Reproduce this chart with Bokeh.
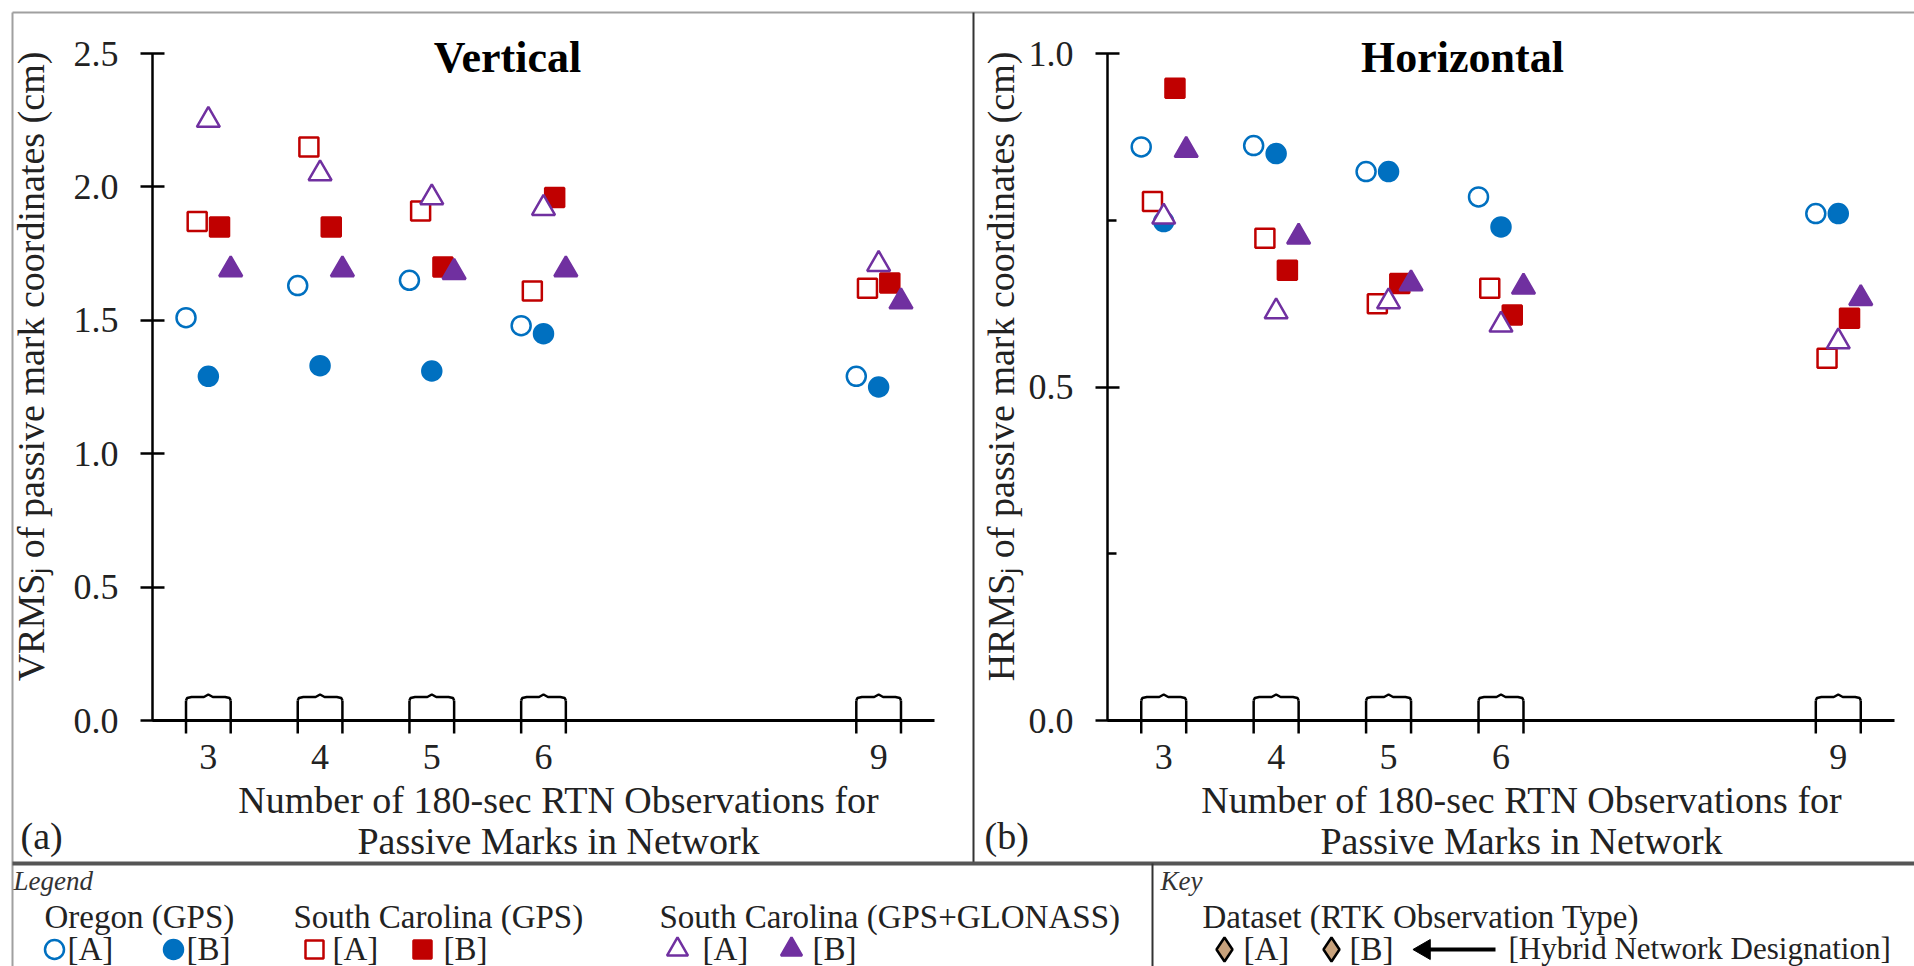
import numpy as np
from bokeh.plotting import figure
from bokeh.models import Range1d, LinearAxis, FixedTicker, PrintfTickFormatter, ColumnDataSource
from bokeh.transform import dodge
from bokeh.core.properties import value
from bokeh.embed import file_html
from bokeh.resources import INLINE

# ---------------- data ----------------
n_obs = [3, 4, 5, 6, 9]
v_ticks = [0.0, 0.5, 1.0, 1.5, 2.0, 2.5]
h_ticks = [0.0, 0.5, 1.0]
h_minor_ticks = [0.25, 0.75]

# Vertical RMS (cm)
oregon_a_v = [1.51, 1.63, 1.65, 1.48, 1.29]
oregon_b_v = [1.29, 1.33, 1.31, 1.45, 1.25]
sc_gps_a_v = [1.87, 2.15, 1.91, 1.61, 1.62]
sc_gps_b_v = [1.85, 1.85, 1.70, 1.96, 1.64]
sc_glo_a_v = [2.25, 2.05, 1.96, 1.92, 1.71]
sc_glo_b_v = [1.69, 1.69, 1.68, 1.69, 1.57]

# Horizontal RMS (cm)
oregon_a_h = [0.860, 0.862, 0.823, 0.785, 0.760]
oregon_b_h = [0.748, 0.850, 0.823, 0.740, 0.760]
sc_gps_a_h = [0.778, 0.723, 0.625, 0.648, 0.543]
sc_gps_b_h = [0.948, 0.675, 0.655, 0.608, 0.603]
sc_glo_a_h = [0.755, 0.613, 0.628, 0.593, 0.568]
sc_glo_b_h = [0.855, 0.725, 0.655, 0.650, 0.633]

panel_titles = ["Vertical", "Horizontal"]
panel_tags = ["(a)", "(b)"]
y_labels = ["VRMS\u2C7C of passive mark coordinates (cm)",
            "HRMS\u2C7C of passive mark coordinates (cm)"]
x_label_lines = ["Number of 180-sec RTN Observations for", "Passive Marks in Network"]
legend_groups = ["Oregon (GPS)", "South Carolina (GPS)", "South Carolina (GPS+GLONASS)"]
dataset_labels = ["[A]", "[B]"]
key_title = "Dataset (RTK Observation Type)"
key_note = "[Hybrid Network Designation]"

# ---------------- page geometry ----------------
W, H = 1914, 966
FONT = "Liberation Serif"
BLUE, RED, PURPLE = "#0070C0", "#C00000", "#7030A0"


def x_map(v0, p0, v1, p1):
    unit = (p1 - p0) / (v1 - v0)
    return v0 - p0 / unit, v1 + (W - p1) / unit, unit


def y_map(vtop, ptop, vbot, pbot):
    unit = (pbot - ptop) / (vtop - vbot)
    return vbot - (H - pbot) / unit, vtop + ptop / unit, unit


lx0, lx1, lxu = x_map(2.5, 152, 9.5, 934)
ly0, ly1, lyu = y_map(2.5, 53, 0.0, 720)
rx0, rx1, rxu = x_map(2.5, 1107, 9.5, 1894)
ry0, ry1, ryu = y_map(1.0, 53, 0.0, 720)

p = figure(width=W, height=H, x_range=Range1d(0, W), y_range=Range1d(H, 0),
           x_axis_type=None, y_axis_type=None, toolbar_location=None,
           output_backend="svg", min_border=0, outline_line_color=None,
           background_fill_color="white", border_fill_color="white")
p.extra_x_ranges = {"lx": Range1d(lx0, lx1), "rx": Range1d(rx0, rx1)}
p.extra_y_ranges = {"ly": Range1d(ly0, ly1), "ry": Range1d(ry0, ry1)}

# ---------------- frame lines ----------------
p.segment(x0=[12, 12], y0=[12, 12], x1=[W, 12], y1=[12, H], line_color="#a0a0a0", line_width=2)
p.segment(x0=[973], y0=[12], x1=[973], y1=[863], line_color="#333333", line_width=2)
p.segment(x0=[12], y0=[863], x1=[W], y1=[863], line_color="#555555", line_width=4)
p.segment(x0=[1152], y0=[863], x1=[1152], y1=[H], line_color="#333333", line_width=2)


def add_panel(xr, yr, yunit, yticks, ymax, minor, data):
    xa = LinearAxis(x_range_name=xr, y_range_name=yr, fixed_location=0,
                    bounds=(2.5, 9.5), ticker=FixedTicker(ticks=n_obs),
                    major_tick_in=0, major_tick_out=0,
                    major_tick_line_color=None, minor_tick_line_color=None,
                    axis_line_width=3, axis_line_color="black",
                    major_label_text_font=FONT, major_label_text_font_size="36px",
                    major_label_text_color="#222222", major_label_standoff=24)
    p.add_layout(xa, "below")
    ya = LinearAxis(x_range_name=xr, y_range_name=yr, fixed_location=2.5,
                    bounds=(0, ymax),
                    ticker=FixedTicker(ticks=yticks, minor_ticks=minor),
                    formatter=PrintfTickFormatter(format="%.1f"),
                    major_tick_in=12, major_tick_out=12, major_tick_line_width=2.5,
                    major_tick_line_color="black",
                    minor_tick_in=9, minor_tick_out=0, minor_tick_line_width=2.5,
                    minor_tick_line_color="black" if minor else None,
                    axis_line_width=2.5, axis_line_color="black",
                    major_label_text_font=FONT, major_label_text_font_size="36px",
                    major_label_text_color="#222222", major_label_standoff=22)
    p.add_layout(ya, "left")

    # group brackets at each observation count
    lo, hi, peak = -13 / yunit, 20 / yunit, 26 / yunit
    xs, ys = [], []
    for n in n_obs:
        xs += [[n - 0.2, n - 0.2], [n + 0.2, n + 0.2]]
        ys += [[lo, hi], [lo, hi]]
        xs.append([n - 0.2, n - 0.19, n - 0.15, n - 0.04, n, n + 0.04, n + 0.15, n + 0.19, n + 0.2])
        ys.append([hi, hi + 2.5 / yunit, hi + 3.5 / yunit, hi + 3.5 / yunit, peak,
                   hi + 3.5 / yunit, hi + 3.5 / yunit, hi + 2.5 / yunit, hi])
    p.multi_line(xs=xs, ys=ys, line_color="black", line_width=2.5,
                 x_range_name=xr, y_range_name=yr)

    src = ColumnDataSource(dict(n=n_obs, oa=data[0], ob=data[1], sa=data[2],
                                sb=data[3], ga=data[4], gb=data[5]))
    spec = [("oa", -0.2, "circle", BLUE, False, 19),
            ("ob", 0.0, "circle", BLUE, True, 19),
            ("sa", -0.1, "square", RED, False, 19),
            ("sb", 0.1, "square", RED, True, 19),
            ("ga", 0.0, "triangle", PURPLE, False, 23),
            ("gb", 0.2, "triangle", PURPLE, True, 23)]
    for field, off, mk, col, filled, sz in spec:
        p.scatter(x=dodge("n", off), y=field, source=src, marker=mk, size=sz,
                  line_color=col, fill_color=col if filled else "white",
                  line_width=2.5, x_range_name=xr, y_range_name=yr)


add_panel("lx", "ly", lyu, v_ticks, 2.5, [],
          [oregon_a_v, oregon_b_v, sc_gps_a_v, sc_gps_b_v, sc_glo_a_v, sc_glo_b_v])
add_panel("rx", "ry", ryu, h_ticks, 1.0, h_minor_ticks,
          [oregon_a_h, oregon_b_h, sc_gps_a_h, sc_gps_b_h, sc_glo_a_h, sc_glo_b_h])

# ---------------- panel texts ----------------
p.text(x=[507, 1462], y=[57, 57], text=panel_titles, text_font=value(FONT),
       text_font_style="bold", text_font_size="44px", text_align="center",
       text_baseline="middle", text_color="black")
p.text(x=[30, 1000], y=[366, 366], text=y_labels, angle=np.pi / 2,
       text_font=value(FONT), text_font_size="38px", text_align="center",
       text_baseline="middle", text_color="#222222")
p.text(x=[558, 558, 1521, 1521], y=[799, 840, 799, 840],
       text=x_label_lines + x_label_lines, text_font=value(FONT),
       text_font_size="38px", text_align="center", text_baseline="middle",
       text_color="#222222")
p.text(x=[20, 984], y=[835, 835], text=panel_tags, text_font=value(FONT),
       text_font_size="38px", text_align="left", text_baseline="middle",
       text_color="#222222")

# ---------------- legend / key ----------------
p.text(x=[13, 1160], y=[880, 880], text=["Legend", "Key"], text_font=value(FONT),
       text_font_style="italic", text_font_size="27px", text_align="left",
       text_baseline="middle", text_color="#333333")
p.text(x=[44, 293, 659, 1202], y=[916, 916, 916, 916],
       text=legend_groups + [key_title], text_font=value(FONT),
       text_font_size="33px", text_align="left", text_baseline="middle",
       text_color="#222222")
p.text(x=[67, 186, 332, 443, 702, 812, 1243, 1349],
       y=[948] * 8,
       text=dataset_labels * 4, text_font=value(FONT),
       text_font_size="33px", text_align="left", text_baseline="middle",
       text_color="#222222")
p.text(x=[1508], y=[948], text=[key_note], text_font=value(FONT),
       text_font_size="31px", text_align="left", text_baseline="middle",
       text_color="#222222")
leg = [(54, "circle", BLUE, False, 19), (173, "circle", BLUE, True, 19),
       (314, "square", RED, False, 18), (422, "square", RED, True, 18),
       (677, "triangle", PURPLE, False, 21), (791, "triangle", PURPLE, True, 21)]
for x, mk, col, filled, sz in leg:
    p.scatter(x=[x], y=[949], marker=mk, size=sz, line_color=col,
              fill_color=col if filled else "white", line_width=2.5)
p.scatter(x=[1224, 1331], y=[949, 949], marker="diamond", size=24,
          line_color="black", fill_color="#C8A27C", line_width=2.5)
p.segment(x0=[1425], y0=[949], x1=[1495], y1=[949], line_color="black", line_width=4)
p.scatter(x=[1424], y=[949], marker="triangle", angle=np.pi / 2, size=20,
          line_color="black", fill_color="black")

open("out.html", "w").write(file_html(p, INLINE))
